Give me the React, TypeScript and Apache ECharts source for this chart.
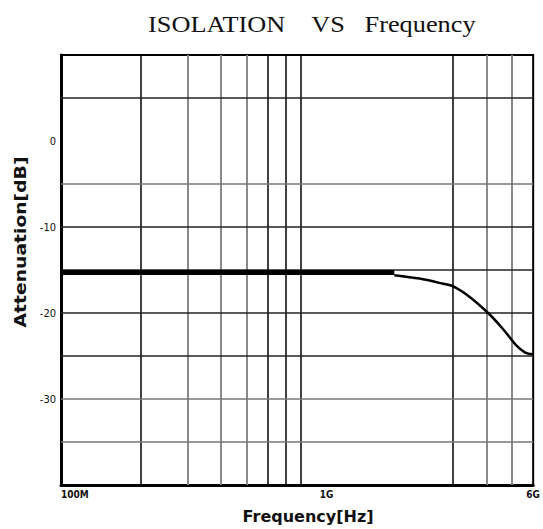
import React, { useEffect, useRef } from "react";
import * as echarts from "echarts";

const titleText = "ISOLATION    VS   Frequency";
const xAxisTitle = "Frequency[Hz]";
const yAxisTitle = "Attenuation[dB]";

// x tick labels (Hz -> label)
const xTickValues = [1e8, 1e9, 6e9];
const xTickLabels = ["100M", "1G", "6G"];

// y tick labels
const yTickValues = [0, -10, -20, -30];
const yTickLabels = ["0", "-10", "-20", "-30"];

// grid lines drawn in the reference
const xGridFreqs = [2e8, 3e8, 4e8, 5e8, 6e8, 7e8, 8e8, 3e9, 4e9, 5e9];
const xGridDark = [true, false, false, false, true, true, true, true, false, false];
const yGridDb = [5, -5, -10, -15, -20, -25, -30, -35];
const yGridDark = [true, false, true, true, true, true, false, false];

// isolation curve: flat part (thick trace)
const flatFreq = [1e8, 5e8, 1e9, 1.8e9];
const flatDb = [-15.3, -15.3, -15.3, -15.3];

// roll-off part (thin trace)
const rollFreq = [1.8e9, 2.24e9, 2.75e9, 3.0e9, 3.45e9, 4.06e9, 4.6e9, 5.16e9, 5.6e9, 6.0e9];
const rollDb = [-15.6, -16.0, -16.6, -16.9, -18.1, -20.0, -21.8, -23.7, -24.6, -24.8];

export default function App() {
  const ref = useRef<HTMLDivElement>(null);
  useEffect(() => {
    if (!ref.current) return;
    const chart = echarts.init(ref.current, null, { renderer: "svg" });
    const fmtX = (v: number) => {
      for (let i = 0; i < xTickValues.length; i++) {
        if (Math.abs(v - xTickValues[i]) / xTickValues[i] < 0.01) return xTickLabels[i];
      }
      return "";
    };
    const fmtY = (v: number) => {
      const i = yTickValues.indexOf(Math.round(v));
      return i >= 0 && Math.abs(v - yTickValues[i]) < 0.01 ? yTickLabels[i] : "";
    };
    chart.setOption({
      animation: false,
      backgroundColor: "#fff",
      grid: {
        left: 61,
        top: 55,
        right: 5,
        bottom: 41,
        show: true,
        borderColor: "#000",
        borderWidth: 2,
        backgroundColor: "#fff",
      },
      xAxis: {
        type: "log",
        logBase: 10,
        min: 1e8,
        max: 6e9,
        name: xAxisTitle,
        nameLocation: "middle",
        nameGap: 23,
        nameTextStyle: {
          fontFamily: "DejaVu Sans",
          fontWeight: "bold",
          fontSize: 16,
          color: "#111",
          padding: [0, 0, 0, 22],
        },
        axisLine: { show: true, onZero: false, lineStyle: { color: "#000", width: 3 } },
        axisTick: { show: false },
        splitLine: { show: false },
        minorSplitLine: { show: false },
        axisLabel: {
          formatter: fmtX,
          fontFamily: "DejaVu Sans Condensed",
          fontWeight: "bold",
          fontSize: 10,
          color: "#111",
          margin: 4,
          showMinLabel: true,
          showMaxLabel: true,
          alignMinLabel: "left",
        },
      },
      yAxis: {
        type: "value",
        min: -40,
        max: 10,
        interval: 5,
        axisLine: { show: true, onZero: false, lineStyle: { color: "#000", width: 3 } },
        axisTick: { show: false },
        splitLine: { show: false },
        axisLabel: {
          formatter: fmtY,
          fontFamily: "DejaVu Sans Condensed",
          fontSize: 11,
          color: "#111",
          margin: 5,
        },
      },
      graphic: [
        {
          type: "text",
          x: 148,
          y: 24,
          scaleX: 1.12,
          style: {
            text: titleText,
            fontFamily: "Liberation Serif",
            fontSize: 23.5,
            fill: "#111",
            align: "left",
            verticalAlign: "middle",
          },
        },
        {
          type: "text",
          x: 21,
          y: 242,
          rotation: Math.PI / 2,
          scaleX: 1.25,
          style: {
            text: yAxisTitle,
            fontFamily: "DejaVu Sans",
            fontWeight: "bold",
            fontSize: 15,
            fill: "#111",
            align: "center",
            verticalAlign: "middle",
          },
        },
      ],
      series: [
        {
          type: "line",
          data: [],
          silent: true,
          markLine: {
            silent: true,
            symbol: "none",
            label: { show: false },
            animation: false,
            data: [
              ...xGridFreqs.map((f, i) => ({
                xAxis: f,
                lineStyle: {
                  type: "solid",
                  color: xGridDark[i] ? "#111" : "#8a8a8a",
                  width: xGridDark[i] ? 1.6 : 2,
                },
              })),
              ...yGridDb.map((d, i) => ({
                yAxis: d,
                lineStyle: {
                  type: "solid",
                  color: yGridDark[i] ? "#222" : "#777",
                  width: 1.6,
                },
              })),
            ],
          },
        },
        {
          type: "line",
          data: flatFreq.map((f, i) => [f, flatDb[i]]),
          symbol: "none",
          lineStyle: { color: "#000", width: 5 },
          z: 5,
        },
        {
          type: "line",
          data: rollFreq.map((f, i) => [f, rollDb[i]]),
          symbol: "none",
          smooth: 0.3,
          lineStyle: { color: "#000", width: 2.5 },
          z: 5,
        },
      ],
    });
    return () => chart.dispose();
  }, []);
  return <div ref={ref} style={{ width: 543, height: 529, position: "absolute", left: 0, top: 0 }} />;
}
